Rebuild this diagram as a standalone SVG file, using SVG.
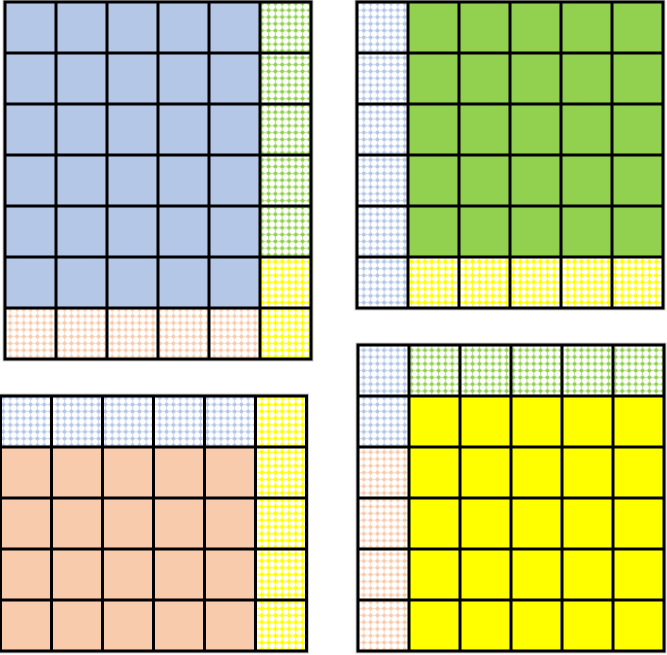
<svg xmlns="http://www.w3.org/2000/svg" width="667" height="655" viewBox="0 0 667 655">
<defs>
<pattern id="pBlue" patternUnits="userSpaceOnUse" width="6.8" height="6.8">
<rect width="6.8" height="6.8" fill="#fff"/>
<rect x="2.8" y="0" width="1.2" height="6.8" fill="#B4C7E7" opacity="0.6"/>
<rect x="0" y="2.8" width="6.8" height="1.2" fill="#B4C7E7" opacity="0.6"/>
<circle cx="3.4" cy="3.4" r="2" fill="#B4C7E7"/>
</pattern>
<pattern id="pGreen" patternUnits="userSpaceOnUse" width="6.8" height="6.8">
<rect width="6.8" height="6.8" fill="#fff"/>
<rect x="2.8" y="0" width="1.2" height="6.8" fill="#92D050" opacity="0.6"/>
<rect x="0" y="2.8" width="6.8" height="1.2" fill="#92D050" opacity="0.6"/>
<circle cx="3.4" cy="3.4" r="2" fill="#92D050"/>
</pattern>
<pattern id="pYellow" patternUnits="userSpaceOnUse" width="6.8" height="6.8">
<rect width="6.8" height="6.8" fill="#fff"/>
<rect x="2.8" y="0" width="1.2" height="6.8" fill="#FFFF00" opacity="0.8"/>
<rect x="0" y="2.8" width="6.8" height="1.2" fill="#FFFF00" opacity="0.8"/>
<circle cx="3.4" cy="3.4" r="2.1" fill="#FFFF00"/>
</pattern>
<pattern id="pPeach" patternUnits="userSpaceOnUse" width="6.8" height="6.8">
<rect width="6.8" height="6.8" fill="#fff"/>
<rect x="2.8" y="0" width="1.2" height="6.8" fill="#F8CBAD" opacity="0.6"/>
<rect x="0" y="2.8" width="6.8" height="1.2" fill="#F8CBAD" opacity="0.6"/>
<circle cx="3.4" cy="3.4" r="2" fill="#F8CBAD"/>
</pattern>
</defs>
<style>
.blue{fill:#B4C7E7}.green{fill:#92D050}.yellow{fill:#FFFF00}.peach{fill:#F8CBAD}
.pb{fill:url(#pBlue)}.pg{fill:url(#pGreen)}.py{fill:url(#pYellow)}.pp{fill:url(#pPeach)}
.grid{fill:none;stroke:#000;stroke-width:3;stroke-linecap:square}
.shadow{fill:none;stroke:#999;stroke-width:5;opacity:0.5}
</style>
<g id="grid-top-left">
<rect class="shadow" x="5" y="2" width="306" height="357"/>
<rect class="blue" x="5" y="2" width="255" height="306"/>
<rect class="pg" x="260" y="2" width="51" height="255"/>
<rect class="py" x="260" y="257" width="51" height="102"/>
<rect class="pp" x="5" y="308" width="255" height="51"/>
<path class="grid" d="M5 2V359M56 2V359M107 2V359M158 2V359M209 2V359M260 2V359M311 2V359M5 2H311M5 53H311M5 104H311M5 155H311M5 206H311M5 257H311M5 308H311M5 359H311"/>
</g>
<g id="grid-top-right">
<rect class="shadow" x="357" y="2" width="306" height="306"/>
<rect class="pb" x="357" y="2" width="51" height="306"/>
<rect class="green" x="408" y="2" width="255" height="255"/>
<rect class="py" x="408" y="257" width="255" height="51"/>
<path class="grid" d="M357 2V308M408 2V308M459 2V308M510 2V308M561 2V308M612 2V308M663 2V308M357 2H663M357 53H663M357 104H663M357 155H663M357 206H663M357 257H663M357 308H663"/>
</g>
<g id="grid-bottom-left">
<rect class="shadow" x="0.5" y="396" width="306" height="255"/>
<rect class="pb" x="0.5" y="396" width="255" height="51"/>
<rect class="py" x="255.5" y="396" width="51" height="255"/>
<rect class="peach" x="0.5" y="447" width="255" height="204"/>
<path class="grid" d="M0.5 396V651M51.5 396V651M102.5 396V651M153.5 396V651M204.5 396V651M255.5 396V651M306.5 396V651M0.5 396H306.5M0.5 447H306.5M0.5 498H306.5M0.5 549H306.5M0.5 600H306.5M0.5 651H306.5"/>
</g>
<g id="grid-bottom-right">
<rect class="shadow" x="358" y="345" width="306" height="306"/>
<rect class="pb" x="358" y="345" width="51" height="102"/>
<rect class="pg" x="409" y="345" width="255" height="51"/>
<rect class="pp" x="358" y="447" width="51" height="204"/>
<rect class="yellow" x="409" y="396" width="255" height="255"/>
<path class="grid" d="M358 345V651M409 345V651M460 345V651M511 345V651M562 345V651M613 345V651M664 345V651M358 345H664M358 396H664M358 447H664M358 498H664M358 549H664M358 600H664M358 651H664"/>
</g>
<g id="connectors"/>
</svg>
